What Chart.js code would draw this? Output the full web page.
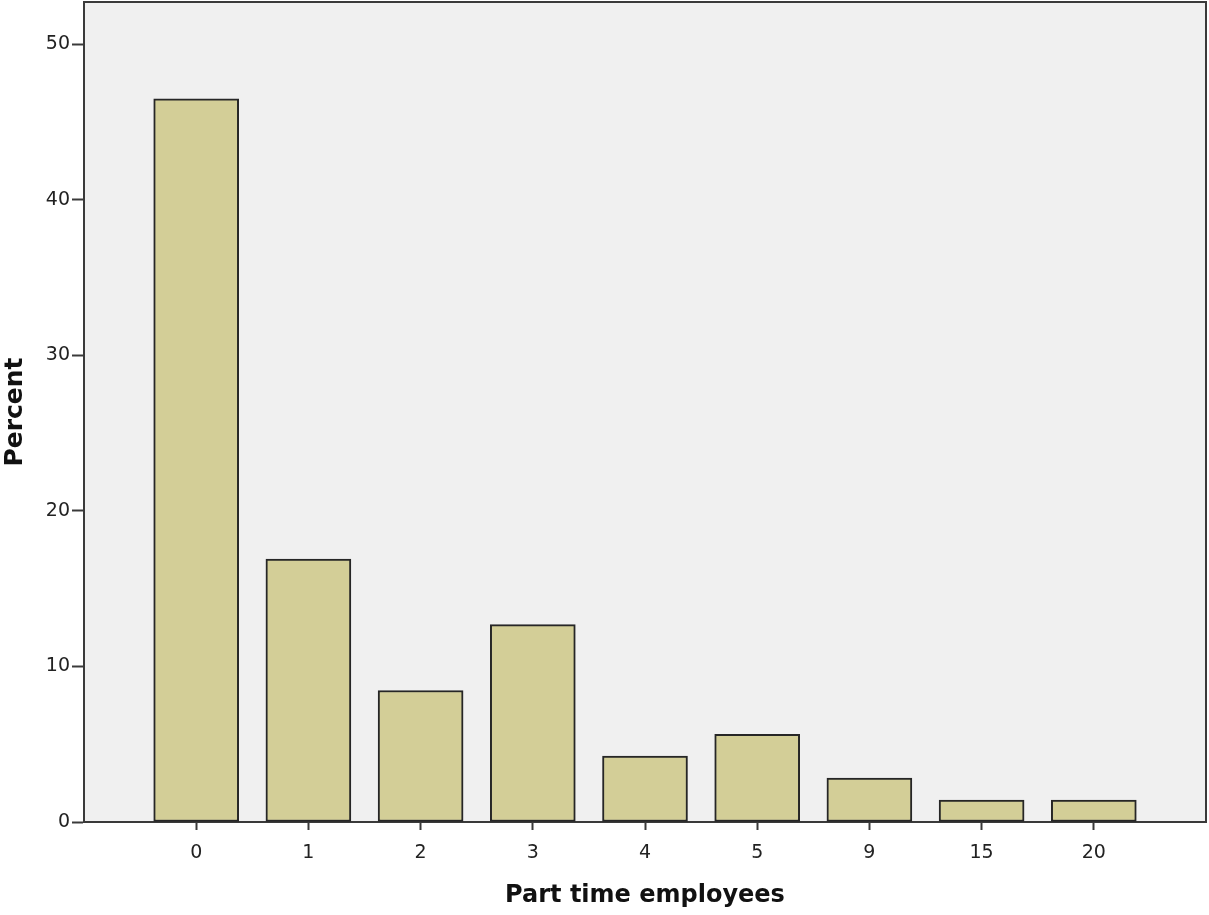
<!DOCTYPE html>
<html>
<head>
<meta charset="utf-8">
<script src="https://cdn.jsdelivr.net/npm/chart.js@4/dist/chart.umd.min.js"></script>
<style>
  html, body { margin: 0; padding: 0; background: #ffffff; }
  #wrap { width: 1209px; height: 915px; }
</style>
</head>
<body>
<div id="wrap"><canvas id="c" width="1209" height="915"></canvas></div>
<script>
// Number of part time employees and share of respondents (%)
const categories = ['0', '1', '2', '3', '4', '5', '9', '15', '20'];
const percents = [46.48, 16.90, 8.45, 12.68, 4.23, 5.63, 2.82, 1.41, 1.41];
const yTicks = [0, 10, 20, 30, 40, 50];

// Empty slots at both ends give the half-gap margins inside the frame
const labels = [''].concat(categories, ['']);
const values = [null].concat(percents, [null]);

const FONT = 'DejaVu Sans';
const INK = '#222222';

// Grey plot background plus the top/right frame lines
const framePlugin = {
  id: 'frame',
  beforeDraw(chart) {
    const { ctx, chartArea: a } = chart;
    ctx.save();
    ctx.fillStyle = '#f0f0f0';
    ctx.fillRect(a.left, a.top, a.right - a.left, a.bottom - a.top);
    ctx.restore();
  },
  afterDraw(chart) {
    const { ctx, chartArea: a } = chart;
    ctx.save();
    ctx.strokeStyle = '#3a3a3a';
    ctx.lineWidth = 2;
    ctx.beginPath();
    ctx.moveTo(a.left, a.top);
    ctx.lineTo(a.right, a.top);
    ctx.lineTo(a.right, a.bottom);
    ctx.stroke();
    ctx.restore();
  }
};

new Chart(document.getElementById('c'), {
  type: 'bar',
  data: {
    labels: labels,
    datasets: [{
      data: values,
      backgroundColor: '#d3ce97',
      borderColor: '#262626',
      borderWidth: 2,
      barThickness: 85,
      borderSkipped: false
    }]
  },
  options: {
    responsive: false,
    animation: false,
    events: [],
    layout: { padding: { top: 2, right: 3, left: 0, bottom: 0 } },
    plugins: { legend: { display: false }, tooltip: { enabled: false } },
    scales: {
      x: {
        offset: false,
        afterBuildTicks(scale) {
          scale.ticks = scale.ticks.filter(t => t.value > 0 && t.value < labels.length - 1);
        },
        afterFit(scale) {
          scale.height = 93;
          scale.paddingLeft = 0;
          scale.paddingRight = 0;
        },
        grid: {
          offset: false,
          drawOnChartArea: false,
          drawTicks: true,
          tickLength: 8,
          tickWidth: 2,
          tickColor: '#3a3a3a'
        },
        border: { display: true, color: '#3a3a3a', width: 2 },
        ticks: {
          autoSkip: false,
          maxRotation: 0,
          padding: 12,
          color: INK,
          font: { family: FONT, size: 19 }
        },
        title: {
          display: true,
          text: 'Part time employees',
          color: '#111111',
          padding: { top: 1, bottom: 5 },
          font: { family: FONT, size: 24, weight: 'bold' }
        }
      },
      y: {
        min: 0,
        max: 52.7,
        afterBuildTicks(scale) {
          scale.ticks = yTicks.map(v => ({ value: v }));
        },
        afterFit(scale) {
          scale.width = 84;
          scale.paddingTop = 0;
          scale.paddingBottom = 0;
        },
        grid: {
          drawOnChartArea: false,
          drawTicks: true,
          tickLength: 12,
          tickWidth: 2,
          tickColor: '#3a3a3a'
        },
        border: { display: true, color: '#3a3a3a', width: 2 },
        ticks: {
          padding: 2,
          color: INK,
          font: { family: FONT, size: 19 }
        },
        title: {
          display: true,
          text: 'Percent',
          color: '#111111',
          padding: { top: 0, bottom: 0 },
          font: { family: FONT, size: 25, weight: 'bold' }
        }
      }
    }
  },
  plugins: [framePlugin]
});
</script>
</body>
</html>
